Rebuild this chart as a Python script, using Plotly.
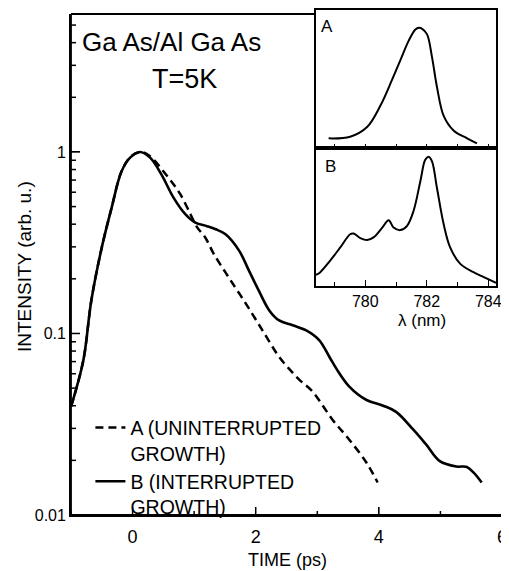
import plotly.graph_objects as go

# ---- main panel data (time-resolved PL) ----
time_A = [-1.0, -0.8, -0.67, -0.5, -0.34, -0.18, -0.02, 0.15, 0.285, 0.584, 0.775, 0.94, 1.05, 1.18,
          1.32, 1.56, 1.84, 2.11, 2.38, 2.54, 2.71, 2.92, 3.25, 3.52, 3.80, 3.98]
int_A = [0.0395, 0.071, 0.152, 0.298, 0.493, 0.78, 0.95, 1.0, 0.946, 0.72, 0.585, 0.454, 0.384, 0.338,
         0.274, 0.204, 0.146, 0.104, 0.0743, 0.064, 0.0555, 0.048, 0.0334, 0.026, 0.0194, 0.0151]

time_B = [-1.0, -0.8, -0.67, -0.5, -0.34, -0.18, -0.04, 0.12, 0.285, 0.47, 0.665, 0.856, 1.02, 1.21,
          1.35, 1.51, 1.73, 1.89, 2.05, 2.22, 2.38, 2.60, 2.82, 3.03, 3.20, 3.31, 3.52, 3.80, 4.07,
          4.28, 4.56, 4.77, 4.99, 5.26, 5.43, 5.54, 5.67]
int_B = [0.0395, 0.071, 0.152, 0.298, 0.493, 0.78, 0.93, 1.0, 0.93, 0.75, 0.56, 0.454, 0.408, 0.39,
         0.375, 0.352, 0.286, 0.222, 0.172, 0.134, 0.118, 0.111, 0.104, 0.092, 0.074, 0.064, 0.051,
         0.043, 0.040, 0.037, 0.0295, 0.0244, 0.0198, 0.0185, 0.0184, 0.0171, 0.0151]

# ---- inset spectra ----
lam_A = [778.81, 779.51, 780.06, 780.49, 780.87, 781.14, 781.41, 781.63, 781.75, 781.84, 782.01,
         782.17, 782.33, 782.55, 782.87, 783.31, 783.63]
spec_A = [0.073, 0.085, 0.155, 0.308, 0.495, 0.636, 0.777, 0.859, 0.872, 0.866, 0.824,
          0.66, 0.446, 0.235, 0.13, 0.073, 0.037]

lam_B = [778.4, 778.54, 778.86, 779.19, 779.51, 779.62, 779.84, 780.06, 780.27, 780.54, 780.76,
         780.92, 781.14, 781.36, 781.57, 781.79, 781.95, 782.06, 782.17, 782.33, 782.55, 782.76,
         783.09, 783.52, 783.96, 784.25]
spec_B = [0.08, 0.10, 0.184, 0.28, 0.376, 0.381, 0.348, 0.334, 0.353, 0.42, 0.478,
          0.425, 0.406, 0.437, 0.545, 0.76, 0.917, 0.94, 0.906, 0.714, 0.448, 0.28,
          0.16, 0.10, 0.053, 0.022]

x_ticks = [0, 2, 4, 6]
x_minor = [-1, 1, 3, 5]
y_ticks = [0.01, 0.1, 1]
y_ticktext = ["0.01", "0.1", "1"]
y_minor = [m * 10 ** e for e in (-2, -1, 0) for m in range(2, 10)]
lam_ticks = [780, 782, 784]
lam_minor = [779, 781, 783]

INK = "#000000"
FONT = "Liberation Sans, Arial, sans-serif"
CLEAR = "rgba(255,255,255,0)"

fig = go.Figure()

fig.add_trace(go.Scatter(
    x=time_A, y=int_A, mode="lines", line=dict(color=INK, width=2.5, dash="8px,5px", shape="spline"),
    name="A (UNINTERRUPTED<br>GROWTH)"))
fig.add_trace(go.Scatter(
    x=time_B, y=int_B, mode="lines", line=dict(color=INK, width=2.6, shape="spline"),
    name="B (INTERRUPTED<br>GROWTH)"))

fig.add_trace(go.Scatter(x=lam_A, y=spec_A, mode="lines", line=dict(color=INK, width=2, shape="spline"),
                         showlegend=False, xaxis="x2", yaxis="y2"))
fig.add_trace(go.Scatter(x=lam_B, y=spec_B, mode="lines", line=dict(color=INK, width=2, shape="spline"),
                         showlegend=False, xaxis="x3", yaxis="y3"))

H = 507.0          # paper height in figure px (page y 8..515)
W = 431.0          # main plot width in px
def py(page_y):    # page pixel y -> paper fraction
    return (515.0 - page_y) / H
def px(page_x):    # page pixel x -> paper fraction
    return (page_x - 71.0) / W

main_top = py(12)
main_h = 503.0
yr = [-2, 0.76]
lam_range = [778.4, 784.25]
inset_x = [px(316), px(496)]

line_style = dict(showline=True, linecolor=INK, linewidth=1.8, showgrid=False, zeroline=False)

# frame of the main panel (the inset covers the top-right part of it)
frame = dict(type="line", xref="paper", yref="paper", layer="above", line=dict(color=INK, width=1.8))
shapes = [
    dict(frame, x0=0, x1=0, y0=0, y1=main_top),
    dict(frame, x0=0, x1=1, y0=0, y1=0),
    dict(frame, x0=1, x1=1, y0=0, y1=main_top),
    dict(frame, x0=0, x1=inset_x[0], y0=main_top, y1=main_top),
]
# main-panel tick marks placed through the axes' own scales
tick = dict(type="line", layer="above", line=dict(color=INK, width=1.5))
for v in x_ticks:
    shapes.append(dict(tick, xref="x", yref="y domain", x0=v, x1=v, y0=0, y1=8 / main_h))
for v in x_minor:
    shapes.append(dict(tick, xref="x", yref="y domain", x0=v, x1=v, y0=0, y1=4 / main_h))
for v in y_ticks:
    shapes.append(dict(tick, xref="x domain", yref="y", x0=0, x1=9 / W, y0=v, y1=v))
for v in y_minor:
    shapes.append(dict(tick, xref="x domain", yref="y", x0=0, x1=5 / W, y0=v, y1=v))

fig.update_layout(
    width=501, height=563,
    margin=dict(l=63, r=7, t=0, b=56),
    paper_bgcolor="white", plot_bgcolor=CLEAR,
    font=dict(family=FONT, color=INK),
    xaxis=dict(range=[-1, 6], tickvals=x_ticks, ticks="inside", ticklen=8, tickcolor=INK,
               tickfont=dict(size=18), ticklabelstandoff=4, mirror=False, **line_style),
    yaxis=dict(domain=[0, main_top], type="log", range=yr, tickvals=y_ticks, ticktext=y_ticktext,
               ticks="inside", ticklen=9, tickcolor=INK, tickfont=dict(size=16), mirror=True,
               **line_style),
    xaxis2=dict(domain=inset_x, range=lam_range, anchor="y2", tickvals=lam_ticks + lam_minor,
                showticklabels=False, ticks="inside", ticklen=5, tickcolor=INK, mirror=True,
                **line_style),
    yaxis2=dict(domain=[py(147), 1.0], range=[0, 1], anchor="x2", showticklabels=False, ticks="",
                mirror=True, **line_style),
    xaxis3=dict(domain=inset_x, range=lam_range, anchor="y3", tickvals=lam_ticks, ticks="inside",
                ticklen=6, tickcolor=INK, tickfont=dict(size=16), mirror=True,
                minor=dict(ticks="inside", ticklen=4, tickmode="array", tickvals=lam_minor,
                           tickcolor=INK, showgrid=False), **line_style),
    yaxis3=dict(domain=[py(285), py(147)], range=[0, 1], anchor="x3", showticklabels=False,
                ticks="", mirror=True, **line_style),
    legend=dict(x=0.045, y=py(408), xanchor="left", yanchor="top", bgcolor=CLEAR,
                font=dict(size=19.5, family=FONT, color=INK), valign="top",
                itemwidth=30, tracegroupgap=2),
    shapes=shapes,
    annotations=[
        dict(text="Ga As/Al Ga As", x=px(171), y=py(40), xref="paper", yref="paper",
             xanchor="center", yanchor="middle", showarrow=False, font=dict(size=26)),
        dict(text="T=5K", x=px(184), y=py(77), xref="paper", yref="paper",
             xanchor="center", yanchor="middle", showarrow=False, font=dict(size=27)),
        dict(text="INTENSITY (arb. u.)", x=px(25), y=py(266), xref="paper", yref="paper",
             xanchor="center", yanchor="middle", showarrow=False, textangle=-90,
             font=dict(size=19)),
        dict(text="TIME (ps)", x=px(287), y=py(560), xref="paper", yref="paper",
             xanchor="center", yanchor="middle", showarrow=False, font=dict(size=18)),
        dict(text="λ (nm)", x=px(422), y=py(320), xref="paper", yref="paper",
             xanchor="center", yanchor="middle", showarrow=False, font=dict(size=17)),
        dict(text="A", x=px(327), y=py(25), xref="paper", yref="paper",
             xanchor="center", yanchor="middle", showarrow=False, font=dict(size=17)),
        dict(text="B", x=px(330), y=py(165), xref="paper", yref="paper",
             xanchor="center", yanchor="middle", showarrow=False, font=dict(size=17)),
    ],
)

fig.write_html("out.html")
